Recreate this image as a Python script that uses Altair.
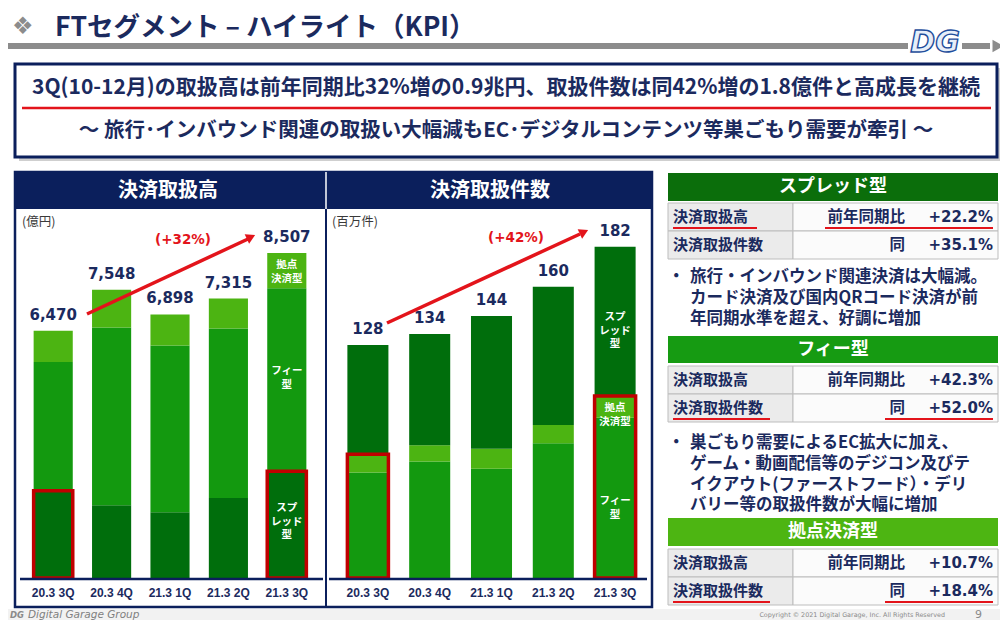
import altair as alt
import pandas as pd

# ---------------- data ----------------
cats = ["20.3 3Q", "20.3 4Q", "21.3 1Q", "21.3 2Q", "21.3 3Q"]
# 決済取扱高 (億円)
amt_spread = [2285, 1905, 1723, 2092, 2792]
amt_fee = [3370, 4650, 4365, 4440, 4795]
amt_kyoten = [815, 993, 810, 783, 920]
amt_total = [6470, 7548, 6898, 7315, 8507]
# 決済取扱件数 (百万件)
cnt_fee = [58, 64, 60, 74, 88]
cnt_kyoten = [10, 9, 11, 10, 12]
cnt_spread = [60, 61, 73, 76, 82]
cnt_total = [128, 134, 144, 160, 182]

seg_names = ["spread", "fee", "kyoten"]

OFF = 8
JP = "Noto Sans CJK JP"
NUM = "DejaVu Sans"
NAVY = "#0b1f5c"
TNAVY = "#1b2a5e"
DARK = "#006e0c"
MID = "#13990f"
LIGHT = "#4cb412"
RED = "#e3141b"
BOXRED = "#c00000"

dummy = pd.DataFrame({"d": [0]})


def V(v):
    return alt.value(v - OFF)


def rect(x1, y1, x2, y2, **kw):
    return alt.Chart(dummy).mark_rect(**kw).encode(x=V(x1), x2=V(x2), y=V(y1), y2=V(y2))


def rule(x1, y1, x2, y2, color, width):
    return alt.Chart(dummy).mark_rule(color=color, strokeWidth=width).encode(
        x=V(x1), x2=V(x2), y=V(y1), y2=V(y2))


def text(s, x, y, size, color=TNAVY, align="left", weight="bold", font=JP, **kw):
    return alt.Chart(dummy).mark_text(
        text=s, align=align, baseline="middle", fontSize=size, fontWeight=weight,
        font=font, color=color, **kw).encode(x=V(x), y=V(y))


layers = []

# ---------------- title ----------------
layers.append(text("❖", 12, 27, 24, color="#8c8c8c", weight="normal", font="DejaVu Sans"))
layers.append(text("FTセグメント – ハイライト（KPI）", 55, 28, 26.5))
layers.append(rule(0, 46, 990, 46, "#8c8c8c", 6))
layers.append(alt.Chart(dummy).mark_point(shape="triangle-right", filled=True, size=160,
                                          color="#8c8c8c", opacity=1).encode(x=V(998), y=V(46)))
layers.append(rect(908, 26, 962, 60, fill="white"))
layers.append(text("DG", 935, 43, 30, color="#e6eef9", align="center", font=NUM,
                   fontStyle="italic", stroke="#1f4e9c", strokeWidth=1.4))

# ---------------- headline box ----------------
layers.append(rect(19, 68, 1000, 161, fill="#cfcfcf"))
layers.append(rect(15, 64, 997, 157, fill="white", stroke=NAVY, strokeWidth=3))
layers.append(text("3Q(10-12月)の取扱高は前年同期比32%増の0.9兆円、取扱件数は同42%増の1.8億件と高成長を継続",
                   506, 88, 21, align="center"))
layers.append(rule(22, 108, 991, 108, RED, 2.5))
layers.append(text("～ 旅行･インバウンド関連の取扱い大幅減もEC･デジタルコンテンツ等巣ごもり需要が牽引 ～",
                   506, 131, 20.5, align="center"))

# ---------------- chart panels ----------------
layers.append(rect(15, 172, 652, 607, fill="white", stroke=NAVY, strokeWidth=2.5))
layers.append(rect(15, 172, 652, 209, fill=NAVY))
layers.append(rule(326, 209, 326, 607, NAVY, 2))
layers.append(rule(326, 172, 326, 209, "white", 1.5))
layers.append(text("決済取扱高", 168, 191, 20, color="white", align="center"))
layers.append(text("決済取扱件数", 490, 191, 20, color="white", align="center"))
layers.append(text("(億円)", 22, 222, 12.5, color="#3a3a3a", weight="normal"))
layers.append(text("(百万件)", 332, 222, 12.5, color="#3a3a3a", weight="normal"))

xsL = alt.Scale(domain=cats, range=[24 - OFF, 316 - OFF], paddingInner=0.33, paddingOuter=0.165)
xsR = alt.Scale(domain=cats, range=[337 - OFF, 646 - OFF], paddingInner=0.336, paddingOuter=0.168)
ysL = alt.Scale(domain=[0, 10000], range=[578 - OFF, 196 - OFF], nice=False, zero=True)
ysR = alt.Scale(domain=[0, 200], range=[578 - OFF, 214 - OFF], nice=False, zero=True)
colscale = alt.Scale(domain=seg_names, range=[DARK, MID, LIGHT])


def stack_df(order):
    rows = []
    for i, c in enumerate(cats):
        base = 0
        for seg, vals in order:
            rows.append(dict(cat=c, seg=seg, y0=base, y1=base + vals[i]))
            base += vals[i]
    return pd.DataFrame(rows)


dfL = stack_df([("spread", amt_spread), ("fee", amt_fee), ("kyoten", amt_kyoten)])
dfR = stack_df([("fee", cnt_fee), ("kyoten", cnt_kyoten), ("spread", cnt_spread)])


def bars(df, xs, ys):
    return alt.Chart(df).mark_bar().encode(
        x=alt.X("cat:N", scale=xs, axis=None),
        y=alt.Y("y0:Q", scale=ys, axis=None),
        y2="y1:Q",
        color=alt.Color("seg:N", scale=colscale, legend=None),
    )


def totals(vals, xs, ys):
    df = pd.DataFrame({"cat": cats, "total": vals})
    return alt.Chart(df).mark_text(dy=-16, baseline="middle", fontSize=15, font=NUM,
                                   fontWeight="bold", color=TNAVY).encode(
        x=alt.X("cat:N", scale=xs, axis=None),
        y=alt.Y("total:Q", scale=ys, axis=None),
        text=alt.Text("total:Q", format=","))


def catlabels(xs):
    df = pd.DataFrame({"cat": cats})
    return alt.Chart(df).mark_text(baseline="middle", fontSize=12, font="Liberation Sans",
                                   fontWeight="bold", color=TNAVY).encode(
        x=alt.X("cat:N", scale=xs, axis=None), y=V(593), text="cat:N")


def boxes(idx, tops, xs, ys):
    df = pd.DataFrame({"cat": [cats[i] for i in idx], "y0": [0] * len(idx),
                       "y1": [tops[i] for i in idx]})
    return alt.Chart(df).mark_bar(fillOpacity=0, stroke=BOXRED, strokeWidth=3.5).encode(
        x=alt.X("cat:N", scale=xs, axis=None),
        y=alt.Y("y0:Q", scale=ys, axis=None), y2="y1:Q")


def inbar(cat, s, y, xs):
    # y = centre of the first line
    df = pd.DataFrame({"cat": [cat]})
    return alt.Chart(df).mark_text(text=s, lineBreak="\n", lineHeight=13.5, baseline="middle",
                                   fontSize=10.5, font=JP, fontWeight="bold",
                                   color="white").encode(
        x=alt.X("cat:N", scale=xs, axis=None), y=V(y))


layers.append(bars(dfL, xsL, ysL))
layers.append(bars(dfR, xsR, ysR))
layers.append(boxes([0, 4], amt_spread, xsL, ysL))
layers.append(boxes([0, 4], [f + k for f, k in zip(cnt_fee, cnt_kyoten)], xsR, ysR))
layers.append(totals(amt_total, xsL, ysL))
layers.append(totals(cnt_total, xsR, ysR))
layers.append(rule(20, 579, 323, 579, NAVY, 2.5))
layers.append(rule(329, 579, 647, 579, NAVY, 2.5))
layers.append(catlabels(xsL))
layers.append(catlabels(xsR))
layers.append(inbar(cats[4], "拠点\n決済型", 265, xsL))
layers.append(inbar(cats[4], "フィー\n型", 371, xsL))
layers.append(inbar(cats[4], "スプ\nレッド\n型", 508, xsL))
layers.append(inbar(cats[4], "スプ\nレッド\n型", 317, xsR))
layers.append(inbar(cats[4], "拠点\n決済型", 408, xsR))
layers.append(inbar(cats[4], "フィー\n型", 501, xsR))

# growth arrows
layers.append(rule(87, 314, 248, 239, RED, 3.5))
layers.append(alt.Chart(dummy).mark_point(shape="triangle-right", filled=True, size=110, angle=335,
                                          color=RED, opacity=1).encode(x=V(251), y=V(237)))
layers.append(text("(+32%)", 183, 240, 13.5, color=RED, align="center", font=NUM))
layers.append(rule(387, 323, 580, 234, RED, 3.5))
layers.append(alt.Chart(dummy).mark_point(shape="triangle-right", filled=True, size=110, angle=335,
                                          color=RED, opacity=1).encode(x=V(584), y=V(232)))
layers.append(text("(+42%)", 516, 238, 13.5, color=RED, align="center", font=NUM))


# ---------------- right side tables ----------------
def table(hy1, hy2, title, hcolor, r_top, rows, underline_row):
    out = []
    out.append(rect(668, hy1, 998, hy2, fill=hcolor))
    out.append(text(title, 833, (hy1 + hy2) / 2, 18, color="white", align="center"))
    for k, (lab, cmp_, pct) in enumerate(rows):
        y1 = r_top + 28 * k
        y2 = y1 + 28
        yc = (y1 + y2) / 2
        out.append(rect(668, y1, 793, y2, fill="#ebebeb", stroke="#bdbdbd", strokeWidth=1))
        out.append(rect(793, y1, 998, y2, fill="#fbfbfb", stroke="#bdbdbd", strokeWidth=1))
        out.append(text(lab, 673, yc, 15))
        out.append(text(cmp_, 905, yc, 15.5, align="right"))
        out.append(text(pct, 993, yc, 15, align="right", font=NUM))
        if k == underline_row:
            lw = 757 if lab == "決済取扱高" else 770
            out.append(rule(673, yc + 11, lw, yc + 11, RED, 2))
            out.append(rule(825 if cmp_ == "前年同期比" else 885, yc + 11, 993, yc + 11, RED, 2))
    return out


layers += table(173, 201, "スプレッド型", "#0b6e0b", 203,
                [("決済取扱高", "前年同期比", "+22.2%"), ("決済取扱件数", "同", "+35.1%")], 0)
layers += table(336, 363, "フィー型", "#169b12", 366,
                [("決済取扱高", "前年同期比", "+42.3%"), ("決済取扱件数", "同", "+52.0%")], 1)
layers += table(518, 546, "拠点決済型", "#4db512", 549,
                [("決済取扱高", "前年同期比", "+10.7%"), ("決済取扱件数", "同", "+18.4%")], 1)

bul1 = ["旅行・インバウンド関連決済は大幅減。", "カード決済及び国内QRコード決済が前", "年同期水準を超え、好調に増加"]
bul2 = ["巣ごもり需要によるEC拡大に加え、", "ゲーム・動画配信等のデジコン及びテ",
        "イクアウト(ファーストフード）・デリ", "バリー等の取扱件数が大幅に増加"]
LH = 20.8
layers.append(text("・", 668, 277, 16.5))
layers.append(text("\n".join(bul1), 690, 277, 16.5, lineBreak="\n", lineHeight=LH))
layers.append(text("・", 668, 443, 16.5))
layers.append(text("\n".join(bul2), 690, 443, 16.5, lineBreak="\n", lineHeight=LH))

# ---------------- footer ----------------
layers.append(rect(0, 609, 1008, 628, fill="#f2f2f2"))
layers.append(text("DG", 10, 615, 8.5, color="#8a8a8a", font=NUM, fontStyle="italic"))
layers.append(text("Digital Garage Group", 28, 615, 10.5, color="#7f7f7f", weight="normal",
                   font=NUM, fontStyle="italic"))
layers.append(text("Copyright © 2021 Digital Garage, Inc. All Rights Reserved", 945, 615, 6.4,
                   color="#8a8a8a", align="right", weight="normal", font=NUM))
layers.append(text("9", 975, 615, 11, color="#8a8a8a", weight="normal", font=NUM))

chart = alt.layer(*layers).resolve_scale(
    x="independent", y="independent", color="independent"
).properties(
    width=992, height=612, autosize=alt.AutoSizeParams(type="none"), padding=0,
    background="white"
).configure_view(stroke=None)

chart.save("out.html", embed_options={"renderer": "svg", "actions": False})
